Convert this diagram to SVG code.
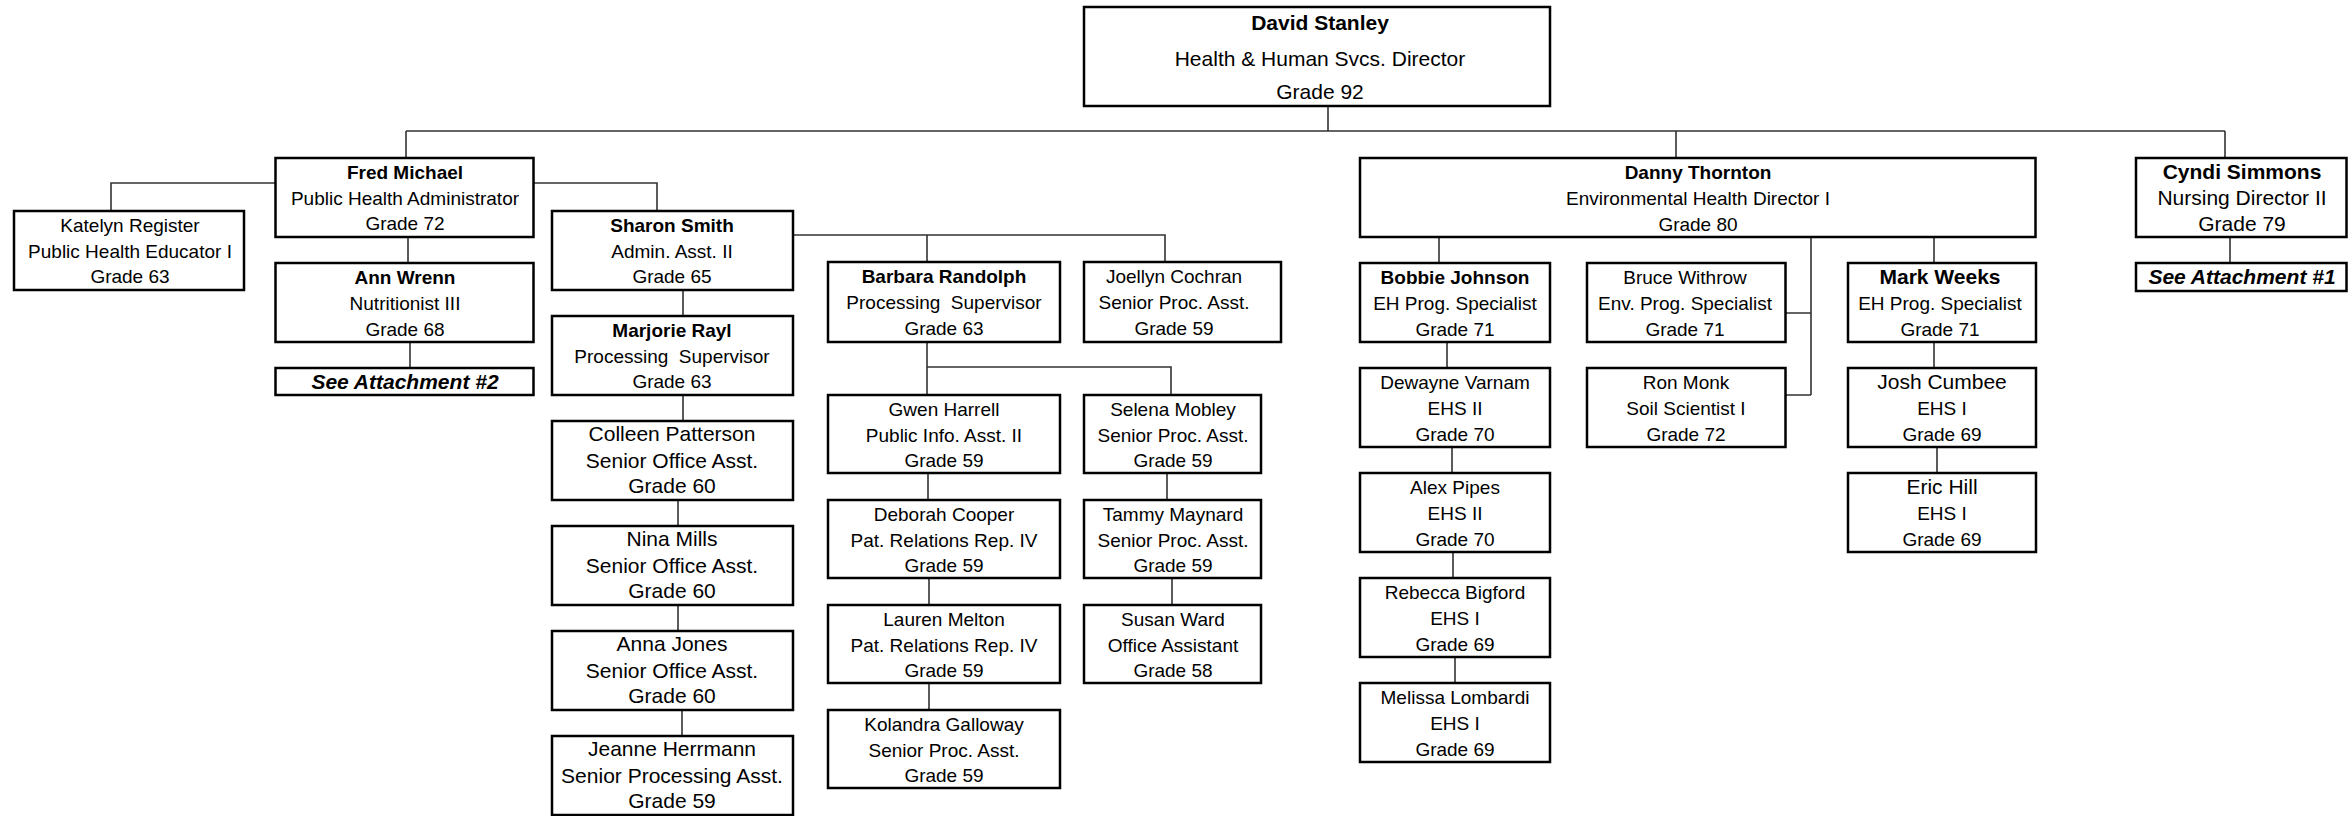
<svg xmlns="http://www.w3.org/2000/svg" width="2350" height="816" viewBox="0 0 2350 816">
<style>
.b{fill:#fff;stroke:#000;stroke-width:2.5}
.c{fill:none;stroke:#333;stroke-width:1.6}
text{font-family:"Liberation Sans",Arial,sans-serif;font-size:19px;fill:#000;text-anchor:middle}
.n{font-weight:bold}
.L{font-size:21px}
.a{font-weight:bold;font-style:italic;font-size:21px}
</style>
<rect width="2350" height="816" fill="#fff"/>
<g id="connectors">
<path class="c" d="M1328 106V131M406 131H2225M406 131V158M1676 131V158M2225 131V158"/>
<path class="c" d="M275.5 183H111V211M534 183H657V211M408 237V263M410 342V368"/>
<path class="c" d="M683 290V316M683 395V421M678 500V526M678 605V631M682 710V736"/>
<path class="c" d="M793 235H1165V262M927 235V262M927 342V395M927 367H1171V395"/>
<path class="c" d="M928 473V500M929 578V605M929 683V710M1167 473V500M1172 578V605"/>
<path class="c" d="M1439 237V263M1447 342V368M1452 447V473M1453 552V578M1455 657V683"/>
<path class="c" d="M1811 237V395M1785.5 313H1811M1785.5 395H1811"/>
<path class="c" d="M1934 237V263M1934 342V368M1937 443V473M2230 237V263"/>
</g>
<g id="david"><rect class="b" x="1084" y="7" width="466" height="99"/><text class="n L" x="1320" y="30">David Stanley</text><text class="L" x="1320" y="66">Health &amp; Human Svcs. Director</text><text class="L" x="1320" y="99">Grade 92</text></g>
<g id="fred"><rect class="b" x="275.5" y="158" width="258" height="79"/><text class="n" x="405" y="179">Fred Michael</text><text x="405" y="205">Public Health Administrator</text><text x="405" y="230">Grade 72</text></g>
<g id="katelyn"><rect class="b" x="14" y="211" width="230" height="79"/><text x="130" y="231.5">Katelyn Register</text><text x="130" y="257.5">Public Health Educator I</text><text x="130" y="283">Grade 63</text></g>
<g id="sharon"><rect class="b" x="552" y="211" width="241" height="79"/><text class="n" x="672" y="231.5">Sharon Smith</text><text x="672" y="257.5">Admin. Asst. II</text><text x="672" y="283">Grade 65</text></g>
<g id="ann"><rect class="b" x="275.5" y="263" width="258" height="79"/><text class="n" x="405" y="284">Ann Wrenn</text><text x="405" y="310">Nutritionist III</text><text x="405" y="335.5">Grade 68</text></g>
<g id="att2"><rect class="b" x="275.5" y="368" width="258" height="27"/><text class="a" x="405" y="388.5">See Attachment #2</text></g>
<g id="marjorie"><rect class="b" x="552" y="316" width="241" height="79"/><text class="n" x="672" y="336.5">Marjorie Rayl</text><text x="672" y="362.5" xml:space="preserve">Processing  Supervisor</text><text x="672" y="388">Grade 63</text></g>
<g id="colleen"><rect class="b" x="552" y="421" width="241" height="79"/><text class="L" x="672" y="441">Colleen Patterson</text><text class="L" x="672" y="467.5">Senior Office Asst.</text><text class="L" x="672" y="493">Grade 60</text></g>
<g id="nina"><rect class="b" x="552" y="526" width="241" height="79"/><text class="L" x="672" y="546">Nina Mills</text><text class="L" x="672" y="572.5">Senior Office Asst.</text><text class="L" x="672" y="598">Grade 60</text></g>
<g id="anna"><rect class="b" x="552" y="631" width="241" height="79"/><text class="L" x="672" y="651">Anna Jones</text><text class="L" x="672" y="677.5">Senior Office Asst.</text><text class="L" x="672" y="703">Grade 60</text></g>
<g id="jeanne"><rect class="b" x="552" y="736" width="241" height="79"/><text class="L" x="672" y="756">Jeanne Herrmann</text><text class="L" x="672" y="782.5">Senior Processing Asst.</text><text class="L" x="672" y="808">Grade 59</text></g>
<g id="barbara"><rect class="b" x="828" y="262" width="232" height="80"/><text class="n" x="944" y="283">Barbara Randolph</text><text x="944" y="309" xml:space="preserve">Processing  Supervisor</text><text x="944" y="334.5">Grade 63</text></g>
<g id="joellyn"><rect class="b" x="1084" y="262" width="197" height="80"/><text x="1174" y="283">Joellyn Cochran</text><text x="1174" y="309">Senior Proc. Asst.</text><text x="1174" y="334.5">Grade 59</text></g>
<g id="gwen"><rect class="b" x="828" y="395" width="232" height="78"/><text x="944" y="415.5">Gwen Harrell</text><text x="944" y="441.5">Public Info. Asst. II</text><text x="944" y="467">Grade 59</text></g>
<g id="selena"><rect class="b" x="1084" y="395" width="177" height="78"/><text x="1173" y="415.5">Selena Mobley</text><text x="1173" y="441.5">Senior Proc. Asst.</text><text x="1173" y="467">Grade 59</text></g>
<g id="deborah"><rect class="b" x="828" y="500" width="232" height="78"/><text x="944" y="520.5">Deborah Cooper</text><text x="944" y="546.5">Pat. Relations Rep. IV</text><text x="944" y="572">Grade 59</text></g>
<g id="tammy"><rect class="b" x="1084" y="500" width="177" height="78"/><text x="1173" y="520.5">Tammy Maynard</text><text x="1173" y="546.5">Senior Proc. Asst.</text><text x="1173" y="572">Grade 59</text></g>
<g id="lauren"><rect class="b" x="828" y="605" width="232" height="78"/><text x="944" y="625.5">Lauren Melton</text><text x="944" y="651.5">Pat. Relations Rep. IV</text><text x="944" y="677">Grade 59</text></g>
<g id="susan"><rect class="b" x="1084" y="605" width="177" height="78"/><text x="1173" y="625.5">Susan Ward</text><text x="1173" y="651.5">Office Assistant</text><text x="1173" y="677">Grade 58</text></g>
<g id="kolandra"><rect class="b" x="828" y="710" width="232" height="78"/><text x="944" y="730.5">Kolandra Galloway</text><text x="944" y="756.5">Senior Proc. Asst.</text><text x="944" y="782">Grade 59</text></g>
<g id="danny"><rect class="b" x="1360" y="158" width="675.5" height="79"/><text class="n" x="1698" y="179">Danny Thornton</text><text x="1698" y="205">Environmental Health Director I</text><text x="1698" y="230.5">Grade 80</text></g>
<g id="bobbie"><rect class="b" x="1360" y="263" width="190" height="79"/><text class="n" x="1455" y="284">Bobbie Johnson</text><text x="1455" y="310">EH Prog. Specialist</text><text x="1455" y="335.5">Grade 71</text></g>
<g id="bruce"><rect class="b" x="1587" y="263" width="198.5" height="79"/><text x="1685" y="284">Bruce Withrow</text><text x="1685" y="310">Env. Prog. Specialist</text><text x="1685" y="335.5">Grade 71</text></g>
<g id="ron"><rect class="b" x="1587" y="368" width="198.5" height="79"/><text x="1686" y="389">Ron Monk</text><text x="1686" y="415">Soil Scientist I</text><text x="1686" y="440.5">Grade 72</text></g>
<g id="mark"><rect class="b" x="1848" y="263" width="188" height="79"/><text class="n L" x="1940" y="284">Mark Weeks</text><text x="1940" y="310">EH Prog. Specialist</text><text x="1940" y="335.5">Grade 71</text></g>
<g id="dewayne"><rect class="b" x="1360" y="368" width="190" height="79"/><text x="1455" y="389">Dewayne Varnam</text><text x="1455" y="415">EHS II</text><text x="1455" y="440.5">Grade 70</text></g>
<g id="josh"><rect class="b" x="1848" y="368" width="188" height="79"/><text class="L" x="1942" y="389">Josh Cumbee</text><text x="1942" y="415">EHS I</text><text x="1942" y="440.5">Grade 69</text></g>
<g id="alex"><rect class="b" x="1360" y="473" width="190" height="79"/><text x="1455" y="494">Alex Pipes</text><text x="1455" y="520">EHS II</text><text x="1455" y="545.5">Grade 70</text></g>
<g id="eric"><rect class="b" x="1848" y="473" width="188" height="79"/><text class="L" x="1942" y="494">Eric Hill</text><text x="1942" y="520">EHS I</text><text x="1942" y="545.5">Grade 69</text></g>
<g id="rebecca"><rect class="b" x="1360" y="578" width="190" height="79"/><text x="1455" y="599">Rebecca Bigford</text><text x="1455" y="625">EHS I</text><text x="1455" y="650.5">Grade 69</text></g>
<g id="melissa"><rect class="b" x="1360" y="683" width="190" height="79"/><text x="1455" y="704">Melissa Lombardi</text><text x="1455" y="730">EHS I</text><text x="1455" y="755.5">Grade 69</text></g>
<g id="cyndi"><rect class="b" x="2136" y="158" width="210.5" height="79"/><text class="n L" x="2242" y="179">Cyndi Simmons</text><text class="L" x="2242" y="205">Nursing Director II</text><text class="L" x="2242" y="231">Grade 79</text></g>
<g id="att1"><rect class="b" x="2136" y="263" width="210.5" height="28"/><text class="a" x="2242" y="284">See Attachment #1</text></g>
</svg>
